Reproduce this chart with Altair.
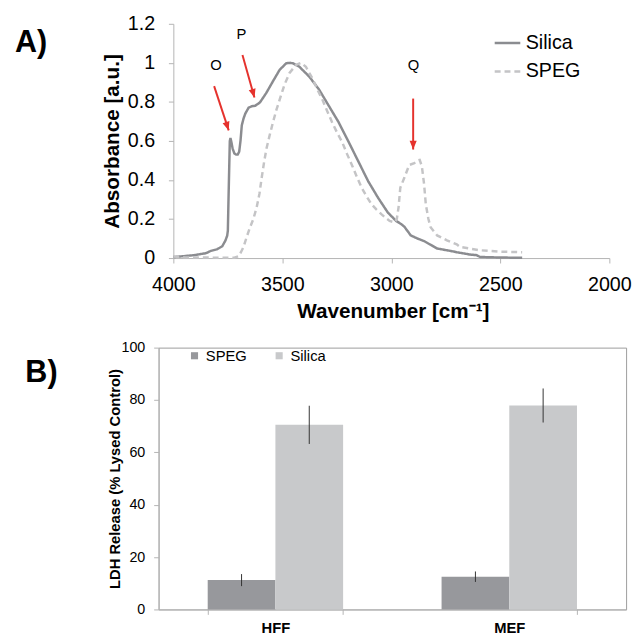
import altair as alt
import pandas as pd

# ---------------- Panel A : IR spectra ----------------
silica_wn = [4000, 3950, 3904, 3850, 3828, 3800, 3776, 3761, 3753, 3750, 3747, 3744,
             3741, 3738, 3733, 3728, 3720, 3712, 3705, 3698, 3692, 3686, 3678, 3670,
             3655, 3640, 3625, 3603, 3573, 3543, 3512, 3482, 3465, 3452, 3422, 3377,
             3332, 3287, 3242, 3196, 3151, 3106, 3061, 3016, 2978, 2956, 2940, 2911,
             2880, 2850, 2820, 2790, 2760, 2730, 2700, 2669, 2640, 2609, 2594, 2550,
             2500, 2450, 2400]
silica_abs = [0.005, 0.010, 0.015, 0.025, 0.037, 0.045, 0.060, 0.090, 0.115, 0.140, 0.300, 0.450,
              0.600, 0.615, 0.590, 0.560, 0.536, 0.530, 0.530, 0.545, 0.600, 0.680, 0.715, 0.740,
              0.770, 0.778, 0.780, 0.797, 0.847, 0.906, 0.965, 0.998, 1.000, 0.998, 0.980, 0.930,
              0.864, 0.780, 0.696, 0.595, 0.494, 0.393, 0.309, 0.233, 0.190, 0.175, 0.160, 0.116,
              0.100, 0.087, 0.068, 0.049, 0.043, 0.037, 0.030, 0.024, 0.018, 0.015, 0.006, 0.004,
              0.003, 0.002, 0.002]

speg_wn = [4000, 3950, 3900, 3800, 3720, 3700, 3690, 3678, 3663, 3648, 3633, 3618,
           3605, 3595, 3584, 3573, 3558, 3543, 3527, 3512, 3490, 3467, 3437, 3414,
           3392, 3362, 3340, 3317, 3295, 3272, 3250, 3226, 3204, 3181, 3158, 3136,
           3113, 3091, 3068, 3046, 3025, 3008, 2985, 2975, 2967, 2959, 2941, 2918,
           2895, 2880, 2870, 2860, 2850, 2842, 2830, 2820, 2790, 2745, 2700, 2685,
           2594, 2500, 2400]
speg_abs = [0.008, 0.004, 0.003, 0.002, 0.002, 0.010, 0.030, 0.057, 0.110, 0.158, 0.200, 0.259,
            0.330, 0.410, 0.490, 0.560, 0.630, 0.696, 0.760, 0.813, 0.889, 0.948, 0.990, 1.000,
            0.980, 0.920, 0.865, 0.813, 0.755, 0.696, 0.645, 0.595, 0.535, 0.477, 0.415, 0.360,
            0.315, 0.276, 0.248, 0.225, 0.205, 0.190, 0.183, 0.200, 0.260, 0.360, 0.410, 0.477,
            0.486, 0.500, 0.503, 0.470, 0.380, 0.276, 0.200, 0.158, 0.116, 0.091, 0.070, 0.057,
            0.040, 0.033, 0.030]

series_a = ["Silica", "SPEG"]

peak_labels = ["O", "P", "Q"]
peak_label_wn = [3804, 3688, 2898]
peak_label_abs = [0.989, 1.145, 0.988]
arrow_start_wn = [3813, 3683, 2900]
arrow_start_abs = [0.881, 1.040, 0.817]
arrow_tip_wn = [3746, 3628, 2900]
arrow_tip_abs = [0.654, 0.822, 0.556]
arrow_angle = [161.6, 164.5, 180]

# ---------------- Panel B : LDH release ----------------
cells = ["HFF", "MEF"]
series_b = ["SPEG", "Silica"]
ldh_speg = [11.2, 12.5]
ldh_speg_err = [2.3, 2.0]
ldh_silica = [70.5, 77.9]
ldh_silica_err = [7.3, 6.5]

FONT = "Liberation Sans"
RED = "#e5322d"
AXIS_GRAY = "#b4b4b4"

# ---- build tables
df_a = pd.concat([
    pd.DataFrame({"wn": silica_wn, "abs": silica_abs, "series": "Silica"}),
    pd.DataFrame({"wn": speg_wn, "abs": speg_abs, "series": "SPEG"}),
], ignore_index=True)
df_lab = pd.DataFrame({"wn": peak_label_wn, "abs": peak_label_abs, "label": peak_labels})
df_arrow = pd.DataFrame({"wn": arrow_start_wn, "abs": arrow_start_abs,
                         "wn2": arrow_tip_wn, "abs2": arrow_tip_abs})
df_head = pd.DataFrame({"wn": arrow_tip_wn, "abs": arrow_tip_abs, "angle": arrow_angle})

# both panels share the same left origin (the B plot's left edge); panel A's
# plot starts 15 px further right, done with the x range and a y-axis offset
SHIFT_A = 15
W_A, H_A = 458, 238
x_a = alt.X("wn:Q",
            scale=alt.Scale(domain=[2000, 4000], reverse=True, nice=False, range=[SHIFT_A, W_A]),
            axis=alt.Axis(values=[4000, 3500, 3000, 2500, 2000], format="d", labelFlush=False,
                          title="Wavenumber [cm⁻¹]", titleFontSize=21, titleFontWeight="bold",
                          titleX=238, titleY=54, titleBaseline="middle",
                          labelFontSize=20, labelPadding=12, tickSize=5,
                          domainColor=AXIS_GRAY, tickColor=AXIS_GRAY, grid=False))
y_a = alt.Y("abs:Q",
            scale=alt.Scale(domain=[0, 1.2], nice=False),
            axis=alt.Axis(values=[0, 0.2, 0.4, 0.6, 0.8, 1.0, 1.2], format="~g", offset=-SHIFT_A,
                          title="Absorbance [a.u.]", titleFontSize=21, titleFontWeight="bold",
                          titleX=-61.5, titleY=H_A / 2, titleBaseline="middle", titleAngle=270,
                          labelFontSize=20, labelPadding=14, tickSize=5,
                          domainColor=AXIS_GRAY, tickColor=AXIS_GRAY, grid=False))

legend_a = alt.Legend(title=None, orient="none", legendX=340, legendY=5,
                      symbolType="stroke", symbolSize=676, symbolStrokeWidth=2.5,
                      labelFontSize=20, labelOffset=4, rowPadding=4, labelColor="black")

lines = alt.Chart(df_a).mark_line(strokeWidth=2.5).encode(
    x=x_a, y=y_a,
    color=alt.Color("series:N", scale=alt.Scale(domain=series_a, range=["#8b8c90", "#c4c4c6"]),
                    legend=legend_a),
    strokeDash=alt.StrokeDash("series:N", scale=alt.Scale(domain=series_a, range=[[1, 0], [6, 4]]),
                              legend=legend_a),
)

arrows = alt.Chart(df_arrow).mark_rule(color=RED, strokeWidth=2).encode(
    x=x_a, y=y_a, x2="wn2:Q", y2="abs2:Q")

heads = alt.Chart(df_head).mark_point(
    shape="M0,0L-0.9,2.2L0.9,2.2Z", filled=True, size=64, color=RED, opacity=1
).encode(x=x_a, y=y_a, angle=alt.Angle("angle:Q", scale=None))

labels = alt.Chart(df_lab).mark_text(fontSize=15, font=FONT, color="black",
                                     baseline="middle", align="center").encode(
    x=x_a, y=y_a, text="label:N")

tag_a = alt.Chart(pd.DataFrame({"t": ["A)"]})).mark_text(
    fontSize=31, fontWeight="bold", font=FONT, color="black", align="center", baseline="middle"
).encode(x=alt.value(-129.5), y=alt.value(19.5), text="t:N")

panel_a = alt.layer(lines, arrows, heads, labels, tag_a).properties(width=W_A, height=H_A)

# ---- panel B
df_b = pd.DataFrame({
    "cell": cells + cells,
    "series": ["SPEG", "SPEG", "Silica", "Silica"],
    "ldh": ldh_speg + ldh_silica,
    "err": ldh_speg_err + ldh_silica_err,
})
df_b["lo"] = df_b["ldh"] - df_b["err"]
df_b["hi"] = df_b["ldh"] + df_b["err"]

W_B, H_B = 475, 266
x_b = alt.X("cell:N", sort=cells,
            scale=alt.Scale(paddingInner=0.421, paddingOuter=0.21),
            axis=alt.Axis(title=None, labelAngle=0, labelFontSize=15, labelFontWeight="bold",
                          labelPadding=6, tickBand="extent", tickSize=5,
                          domainColor=AXIS_GRAY, tickColor=AXIS_GRAY, labelColor="black"))
xoff_b = alt.XOffset("series:N", sort=series_b,
                     scale=alt.Scale(domain=series_b, paddingInner=0, paddingOuter=0))
y_axis_b = alt.Axis(values=[0, 20, 40, 60, 80, 100], title="LDH Release (% Lysed Control)",
                    titleFontSize=15, titleFontWeight="bold", titleX=-45, titleY=H_B / 2,
                    titleBaseline="middle", titleAngle=270,
                    labelFontSize=14.5, labelPadding=9, tickSize=5, minExtent=149,
                    domainColor=AXIS_GRAY, tickColor=AXIS_GRAY, grid=False)
y_b = alt.Y("ldh:Q", scale=alt.Scale(domain=[0, 100], nice=False), axis=y_axis_b)

bars = alt.Chart(df_b).mark_bar().encode(
    x=x_b, xOffset=xoff_b, y=y_b,
    color=alt.Color("series:N", scale=alt.Scale(domain=series_b, range=["#97989c", "#c8c9cb"]),
                    legend=alt.Legend(title=None, orient="none", direction="horizontal",
                                      legendX=29, legendY=0.5, symbolType="square",
                                      symbolSize=52, symbolStrokeWidth=0, labelFontSize=15,
                                      labelOffset=4, columnPadding=25, labelColor="black")),
)
errs = alt.Chart(df_b).mark_rule(color="#333333", strokeWidth=1).encode(
    x=x_b, xOffset=xoff_b,
    y=alt.Y("lo:Q", scale=alt.Scale(domain=[0, 100], nice=False), axis=y_axis_b),
    y2="hi:Q")

tag_b = alt.Chart(pd.DataFrame({"t": ["B)"]})).mark_text(
    fontSize=31, fontWeight="bold", font=FONT, color="black", align="center", baseline="middle"
).encode(x=alt.value(-119), y=alt.value(26), text="t:N")

panel_b = alt.layer(bars, errs, tag_b).properties(
    width=W_B, height=H_B, view=alt.ViewBackground(stroke="#9c9c9c", strokeWidth=1))

chart = alt.vconcat(panel_a, panel_b, spacing=17).resolve_scale(
    color="independent", strokeDash="independent", x="independent", y="independent",
    xOffset="independent"
).resolve_legend(color="independent", strokeDash="independent").properties(
    padding={"left": 3, "top": 0, "right": 0, "bottom": 0}
).configure(font=FONT).configure_view(stroke="transparent").configure_axis(
    labelColor="black", titleColor="black", labelFont=FONT, titleFont=FONT
).configure_legend(labelFont=FONT)

chart.save("out.html", embed_options={"renderer": "svg", "actions": False})
